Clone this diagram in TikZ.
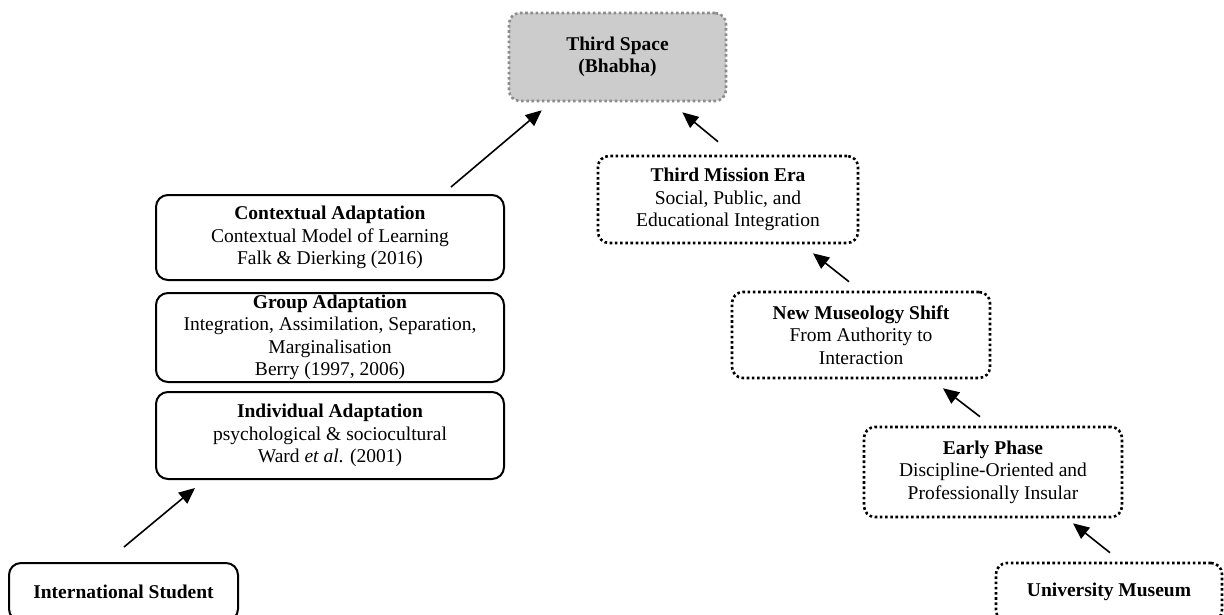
\documentclass[tikz,border=0pt]{standalone}
\usepackage{fontspec}
\setmainfont{Liberation Serif}
\usetikzlibrary{arrows.meta,calc}
\begin{document}
\begin{tikzpicture}[x=1pt,y=-1pt,
  box/.style={draw=black,line width=2pt,rounded corners=12pt,inner sep=0pt,align=center,
    font=\fontsize{19.5}{22.5}\selectfont},
  dotbox/.style={draw=black,line width=2.6pt,dash pattern=on 2.6pt off 2.6pt,rounded corners=11pt,
    inner sep=0pt,align=center,font=\fontsize{19.5}{22.5}\selectfont},
  graybox/.style={dotbox,draw=black!45,fill=black!20},
  arr/.style={line width=1.6pt,-{Triangle[length=16pt,width=14pt]}}]
\useasboundingbox (0,0) rectangle (1224,615);
% left column
\node[box,minimum width=229pt,minimum height=58pt] (intl) at (123.5,592) {\textbf{International Student}};
\node[box,minimum width=348pt,minimum height=87pt] (indiv) at (330,435.5)
  {\textbf{Individual Adaptation}\\psychological \& sociocultural\\Ward \textit{et al}. (2001)};
\node[box,minimum width=348pt,minimum height=89pt] (group) at (330,337.5)
  {\textbf{Group Adaptation}\\Integration, Assimilation, Separation,\\Marginalisation\\Berry (1997, 2006)};
\node[box,minimum width=348pt,minimum height=85pt] (ctx) at (330,237.5)
  {\textbf{Contextual Adaptation}\\Contextual Model of Learning\\Falk \& Dierking (2016)};
% top
\node[graybox,minimum width=217pt,minimum height=88pt] (third) at (617.5,57)
  {\textbf{Third Space}\\\textbf{(Bhabha)}};
% right column
\node[dotbox,minimum width=260pt,minimum height=87pt] (mission) at (728,199.5)
  {\textbf{Third Mission Era}\\Social, Public, and\\Educational Integration};
\node[dotbox,minimum width=258pt,minimum height=86pt] (newmus) at (861,335)
  {\textbf{New Museology Shift}\\From Authority to\\Interaction};
\node[dotbox,minimum width=258pt,minimum height=90pt] (early) at (993,472)
  {\textbf{Early Phase}\\Discipline-Oriented and\\Professionally Insular};
\node[dotbox,minimum width=226pt,minimum height=58pt] (univ) at (1109,592) {\textbf{University Museum}};
% arrow end points
\coordinate (a1s) at ($(intl.north)+(0.5,-15)$);
\coordinate (a1e) at ($(indiv.south west)+(40,8)$);
\coordinate (a2s) at ($(ctx.north)+(121,-7)$);
\coordinate (a2e) at ($(third.south west)+(34,8)$);
\coordinate (a3s) at ($(mission.north)+(-10,-13)$);
\coordinate (a3e) at ($(third.south east)+(-45,10)$);
\coordinate (a4s) at ($(newmus.north)+(-12,-9)$);
\coordinate (a4e) at ($(mission.south)+(85,9)$);
\coordinate (a5s) at ($(early.north)+(-13,-9)$);
\coordinate (a5e) at ($(newmus.south)+(82,9)$);
\coordinate (a6s) at ($(univ.north)+(1,-9)$);
\coordinate (a6e) at ($(early.south)+(80,5)$);
\draw[arr] (a1s) -- (a1e);
\draw[arr] (a2s) -- (a2e);
\draw[arr] (a3s) -- (a3e);
\draw[arr] (a4s) -- (a4e);
\draw[arr] (a5s) -- (a5e);
\draw[arr] (a6s) -- (a6e);
\end{tikzpicture}
\end{document}
